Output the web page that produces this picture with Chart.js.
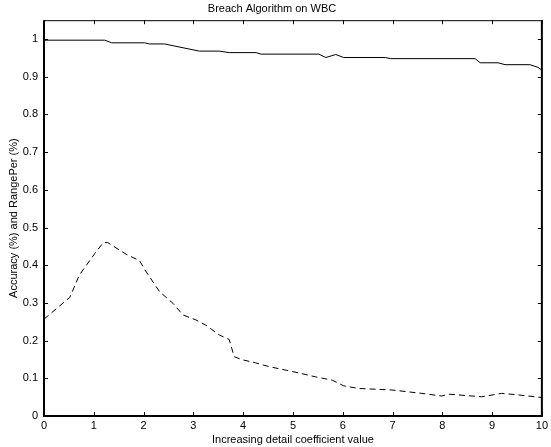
<!DOCTYPE html>
<html>
<head>
<meta charset="utf-8">
<script src="https://cdn.jsdelivr.net/npm/chart.js@4.4.1/dist/chart.umd.min.js"></script>
<style>
  html, body { margin: 0; padding: 0; background: #fff; }
  #wrap { width: 551px; height: 447px; }
</style>
</head>
<body>
<div id="wrap"><canvas id="chart" width="551" height="447"></canvas></div>
<script>
// Accuracy curve (solid)
const accuracyX = [0, 1.22, 1.36, 2.02, 2.12, 2.42, 3.12, 3.52, 3.72, 4.26, 4.36, 5.52, 5.66, 5.86, 6.02, 6.86, 6.96, 8.66, 8.76, 9.12, 9.26, 9.76, 9.92, 10];
const accuracyY = [0.997, 0.997, 0.99, 0.99, 0.987, 0.987, 0.968, 0.968, 0.964, 0.964, 0.960, 0.960, 0.951, 0.959, 0.951, 0.951, 0.948, 0.948, 0.937, 0.937, 0.932, 0.932, 0.925, 0.918];

// RangePer curve (dashed)
const rangeX = [0, 0.52, 0.71, 1.02, 1.19, 1.28, 1.65, 1.92, 2.02, 2.32, 2.59, 2.79, 3.05, 3.25, 3.52, 3.72, 3.82, 3.99, 4.25, 4.52, 4.99, 5.45, 5.79, 6.02, 6.32, 6.99, 7.59, 7.99, 8.12, 8.79, 9.19, 9.45, 10];
const rangeY = [0.257, 0.315, 0.374, 0.431, 0.46, 0.46, 0.429, 0.412, 0.389, 0.33, 0.299, 0.268, 0.255, 0.241, 0.215, 0.203, 0.157, 0.149, 0.141, 0.131, 0.118, 0.104, 0.095, 0.080, 0.073, 0.069, 0.060, 0.053, 0.058, 0.051, 0.060, 0.057, 0.049];

// Tick labels
const xTicks = [0, 1, 2, 3, 4, 5, 6, 7, 8, 9, 10];
const yTicks = [0, 0.1, 0.2, 0.3, 0.4, 0.5, 0.6, 0.7, 0.8, 0.9, 1];

const FONT = 'Liberation Sans, Arial, sans-serif';

const toPoints = (xs, ys) => xs.map((x, i) => ({ x: x, y: ys[i] }));

// Matlab style box with inward ticks
const boxPlugin = {
    id: 'box',
    afterDatasetsDraw(chart) {
        const { ctx, chartArea: a, scales } = chart;
        const len = 4;
        ctx.save();
        ctx.strokeStyle = '#000';
        ctx.lineWidth = 1;
        ctx.beginPath();
        xTicks.forEach(v => {
            const px = Math.round(scales.x.getPixelForValue(v)) + 0.5;
            ctx.moveTo(px, a.bottom); ctx.lineTo(px, a.bottom - len);
            ctx.moveTo(px, a.top); ctx.lineTo(px, a.top + len);
        });
        yTicks.forEach(v => {
            const py = Math.round(scales.y.getPixelForValue(v)) + 0.5;
            ctx.moveTo(a.left, py); ctx.lineTo(a.left + len, py);
            ctx.moveTo(a.right, py); ctx.lineTo(a.right - len, py);
        });
        ctx.stroke();
        ctx.lineWidth = 1;
        ctx.beginPath();
        ctx.moveTo(a.left, a.top + 0.5); ctx.lineTo(a.right, a.top + 0.5);
        ctx.stroke();
        ctx.lineWidth = 2;
        ctx.beginPath();
        ctx.moveTo(a.left, a.top); ctx.lineTo(a.left, a.bottom);
        ctx.lineTo(a.right, a.bottom); ctx.lineTo(a.right, a.top);
        ctx.stroke();
        ctx.restore();
    }
};

new Chart(document.getElementById('chart'), {
    type: 'line',
    data: {
        datasets: [{
            label: 'Accuracy',
            data: toPoints(accuracyX, accuracyY),
            borderColor: '#000',
            borderWidth: 1,
            pointRadius: 0,
            fill: false
        }, {
            label: 'RangePer',
            data: toPoints(rangeX, rangeY),
            borderColor: '#000',
            borderWidth: 1,
            borderDash: [6, 4],
            pointRadius: 0,
            fill: false
        }]
    },
    options: {
        responsive: false,
        animation: false,
        layout: { padding: { left: 0, right: 7, top: 0, bottom: 0 } },
        plugins: {
            legend: { display: false },
            tooltip: { enabled: false },
            title: {
                display: true,
                text: 'Breach Algorithm on WBC',
                color: '#000',
                font: { family: FONT, size: 11, weight: 'normal' },
                padding: { top: 2, bottom: 5 }
            }
        },
        scales: {
            x: {
                type: 'linear',
                min: 0,
                max: 10,
                afterFit(scale) { scale.height = 31; },
                afterBuildTicks(scale) { scale.ticks = xTicks.map(v => ({ value: v })); },
                grid: { display: false, drawTicks: false },
                border: { display: false },
                ticks: {
                    color: '#000',
                    padding: 3,
                    maxRotation: 0,
                    font: { family: FONT, size: 11 }
                },
                title: {
                    display: true,
                    text: 'Increasing detail coefficient value',
                    color: '#000',
                    font: { family: FONT, size: 11 },
                    padding: { top: 0, bottom: 0 }
                }
            },
            y: {
                min: 0,
                max: 1.05,
                afterFit(scale) { scale.width = 44; },
                afterBuildTicks(scale) { scale.ticks = yTicks.map(v => ({ value: v })); },
                grid: { display: false, drawTicks: false },
                border: { display: false },
                ticks: {
                    color: '#000',
                    padding: 6,
                    font: { family: FONT, size: 11 },
                    callback: v => String(Math.round(v * 10) / 10)
                },
                title: {
                    display: true,
                    text: 'Accuracy (%) and RangePer (%)',
                    color: '#000',
                    font: { family: FONT, size: 11 },
                    padding: { top: 7, bottom: 0 }
                }
            }
        }
    },
    plugins: [boxPlugin]
});
</script>
</body>
</html>
